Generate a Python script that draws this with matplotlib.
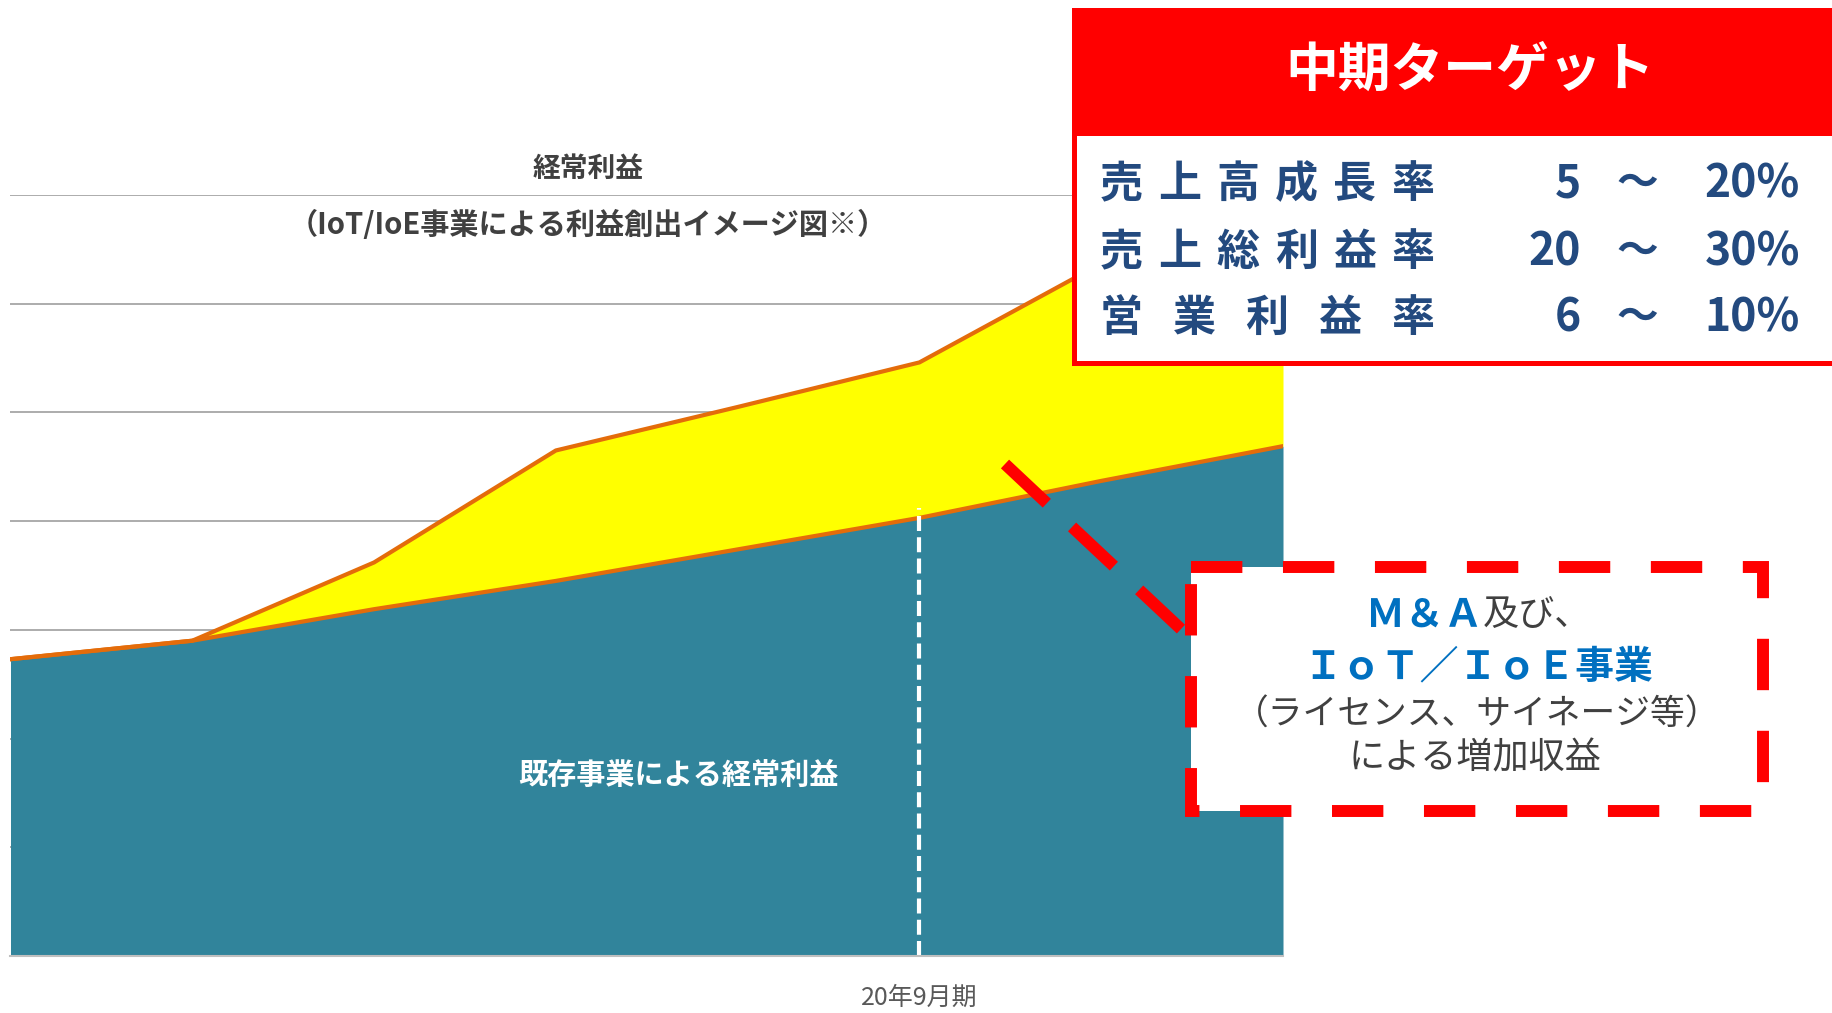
import matplotlib.pyplot as plt
from matplotlib.patches import Rectangle

plt.rcParams['font.family'] = ['Noto Sans CJK JP', 'DejaVu Sans']

# data (arbitrary units, image chart)
periods = ['', '', '', '', '', '20年9月期', '', '']
base_profit = [2.73, 2.90, 3.19, 3.45, 3.74, 4.03, 4.37, 4.69]
total_profit = [2.73, 2.90, 3.62, 4.65, 5.05, 5.46, 6.37, 6.90]
marker_period = 5
marker_top = 4.12

row_labels = ['売上高成長率', '売上総利益率', '営業利益率']
row_low = ['5', '20', '6']
row_high = ['20%', '30%', '10%']

teal = '#31849B'
yellow = '#FFFF00'
orange = '#E46C0A'
red = '#FF0000'
navy = '#234A7F'
blue = '#0070C0'
grey_txt = '#404040'

fig = plt.figure(figsize=(18.32, 10.13), dpi=100)
ax = fig.add_axes([0.00573, 0.0563, 0.6946, 0.7512])

x = list(range(len(periods)))
ax.fill_between(x, 0, base_profit, color=teal, lw=0, zorder=2)
ax.fill_between(x, base_profit, total_profit, color=yellow, lw=0, zorder=2)
ax.plot(x, total_profit, color=orange, lw=3, zorder=3)
ax.plot(x, base_profit, color=orange, lw=3, zorder=3)
ax.vlines(marker_period, 0, marker_top, colors='white', lw=3,
          linestyles=(0, (3.6, 1.5)), zorder=4)

ax.set_xlim(0, len(periods) - 1)
ax.set_ylim(0, 7)
ax.set_yticks(range(8))
ax.grid(axis='y', color='#A6A6A6', lw=1.3)
ax.set_axisbelow(True)
for s in ['top', 'left', 'right']:
    ax.spines[s].set_visible(False)
ax.spines['bottom'].set_color('#BFBFBF')
ax.spines['bottom'].set_linewidth(1.5)
ax.spines['bottom'].set_zorder(5)
ax.tick_params(left=False, labelleft=False, bottom=False, pad=17)
ax.set_xticks([marker_period])
ax.set_xticklabels([periods[marker_period]], fontsize=18, color='#595959')

# overlay in pixel space for the annotation boxes
ov = fig.add_axes([0, 0, 1, 1], zorder=10)
ov.set_xlim(0, 1832)
ov.set_ylim(1013, 0)
ov.axis('off')
ov.patch.set_visible(False)

ov.text(588, 169, '経常利益', fontsize=20, weight='bold', color=grey_txt,
        ha='center', va='center')
ov.text(588, 225, '（IoT/IoE事業による利益創出イメージ図※）', fontsize=21,
        weight='bold', color=grey_txt, ha='center', va='center')
ov.text(678, 775, '既存事業による経常利益', fontsize=21, weight='bold',
        color='white', ha='center', va='center')

# target box
ov.add_patch(Rectangle((1074, 10), 900, 353, facecolor='white',
                       edgecolor=red, lw=3.6))
ov.add_patch(Rectangle((1074, 10), 900, 123, facecolor=red, edgecolor=red, lw=3.6))
ov.text(1470, 70, '中期ターゲット', fontsize=38, weight='bold', color='white',
        ha='center', va='center')

row_y = [184, 252, 318]
for lab, lo, hi, yy in zip(row_labels, row_low, row_high, row_y):
    n = len(lab)
    step = (1413 - 1121) / (n - 1)
    for i, ch in enumerate(lab):
        ov.text(1121 + i * step, yy, ch, fontsize=31, weight='bold', color=navy,
                ha='center', va='center')
    ov.text(1581, yy, lo, fontsize=32, weight='bold', color=navy,
            ha='right', va='center')
    ov.text(1637, yy, '～', fontsize=30, weight='bold', color=navy,
            ha='center', va='center')
    ov.text(1800, yy, hi, fontsize=32, weight='bold', color=navy,
            ha='right', va='center')

# callout
ov.plot([1005, 1183], [464, 631], color=red, lw=8.6, ls=(0, (4.8, 2.9)))
ov.add_patch(Rectangle((1191, 567), 572, 244, facecolor='white',
                       edgecolor=red, lw=8.6, ls=(0, (4.3, 3.4))))
ov.text(1483, 615, 'Ｍ＆Ａ', fontsize=28, weight='bold', color=blue,
        ha='right', va='center')
ov.text(1483, 615, '及び、', fontsize=26, color=grey_txt, ha='left', va='center')
ov.text(1478, 667, 'ＩｏＴ／ＩｏＥ事業', fontsize=28, weight='bold', color=blue,
        ha='center', va='center')
ov.text(1477, 715, '（ライセンス、サイネージ等）', fontsize=25, color=grey_txt,
        ha='center', va='center')
ov.text(1475, 758, 'による増加収益', fontsize=26, color=grey_txt,
        ha='center', va='center')

fig.savefig('out.png', dpi=100)
